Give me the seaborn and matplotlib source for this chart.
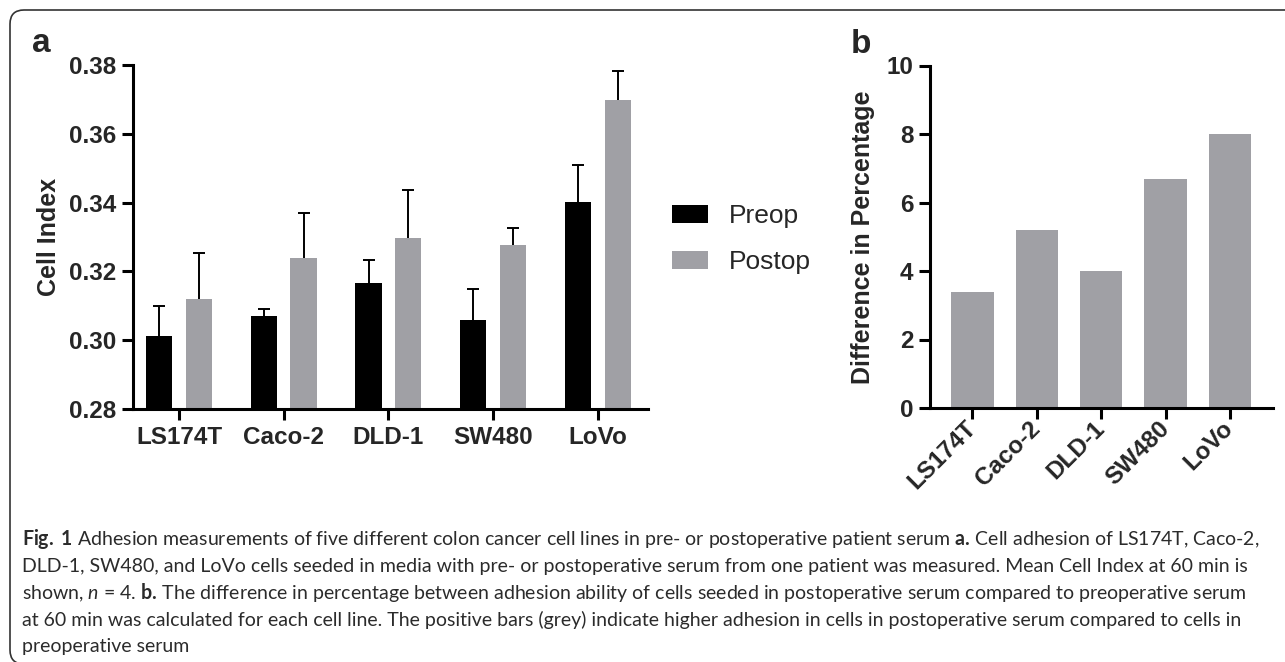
import numpy as np
import pandas as pd
import seaborn as sns
import matplotlib.pyplot as plt
from matplotlib.patches import FancyBboxPatch
from matplotlib.transforms import IdentityTransform

# values
cell_lines = ['LS174T', 'Caco-2', 'DLD-1', 'SW480', 'LoVo']
serum_groups = ['Preop', 'Postop']
preop_mean = [0.3013, 0.3070, 0.3167, 0.3058, 0.3402]
preop_sd = [0.0087, 0.0020, 0.0066, 0.0092, 0.0106]
postop_mean = [0.3120, 0.3238, 0.3298, 0.3277, 0.3699]
postop_sd = [0.0133, 0.0131, 0.0138, 0.0050, 0.0084]
diff_pct = [3.4, 5.2, 4.0, 6.7, 8.0]

caption_lines = [
    r"$\mathbf{Fig.}$ $\mathbf{1}$ Adhesion measurements of five different colon cancer cell lines in pre- or postoperative patient serum $\mathbf{a.}\,$Cell adhesion of LS174T, Caco-2,",
    "DLD-1, SW480, and LoVo cells seeded in media with pre- or postoperative serum from one patient was measured. Mean Cell Index at 60 min is",
    r"shown, $\mathit{n}$ = 4. $\mathbf{b.}\,$The difference in percentage between adhesion ability of cells seeded in postoperative serum compared to preoperative serum",
    "at 60 min was calculated for each cell line. The positive bars (grey) indicate higher adhesion in cells in postoperative serum compared to cells in",
    "preoperative serum",
]

black = '#000000'
grey = '#a0a0a5'

sns.set_style('ticks')
plt.rcParams['font.family'] = ['Liberation Sans', 'DejaVu Sans']
plt.rcParams['mathtext.fontset'] = 'custom'
plt.rcParams['mathtext.rm'] = 'Lato'
plt.rcParams['mathtext.bf'] = 'Lato:bold'
plt.rcParams['mathtext.it'] = 'Lato:italic'

W, H = 1285, 662
fig = plt.figure(figsize=(W / 100, H / 100), dpi=100)

axa = fig.add_axes([133 / W, 1 - 409 / H, 515 / W, 344 / H])
axb = fig.add_axes([930 / W, 1 - 408 / H, 343 / W, 342.5 / H])

# panel a
df_a = pd.DataFrame({
    'line': cell_lines * 2,
    'serum': [serum_groups[0]] * 5 + [serum_groups[1]] * 5,
    'ci': preop_mean + postop_mean,
})
sns.barplot(data=df_a, x='line', y='ci', hue='serum', hue_order=serum_groups,
            palette=[black, grey], saturation=1, width=0.76, gap=0.34,
            errorbar=None, linewidth=0, ax=axa)

for cont, sd in zip(axa.containers, [preop_sd, postop_sd]):
    xs = [b.get_x() + b.get_width() / 2 for b in cont]
    ys = [b.get_height() for b in cont]
    _, caps, _ = axa.errorbar(xs, ys, yerr=[np.zeros(len(sd)), sd], fmt='none',
                              ecolor='black', elinewidth=1.4, capsize=4,
                              capthick=1.4, zorder=1)
    # only the upper caps are drawn in the original
    for cap in caps:
        if np.allclose(cap.get_ydata(), ys):
            cap.set_visible(False)

axa.set_ylim(0.28, 0.38)
axa.set_yticks(np.arange(0.28, 0.381, 0.02))
axa.set_yticklabels([f'{t:.2f}' for t in np.arange(0.28, 0.381, 0.02)])
axa.set_xlim(-0.44, 4.48)
axa.set_xlabel('')
axa.set_ylabel('Cell Index', fontsize=18, fontweight='bold', labelpad=6)

handles, labels = axa.get_legend_handles_labels()
axa.legend(handles, labels, loc='upper left', bbox_to_anchor=(672 / W, 1 - 204 / H),
           bbox_transform=fig.transFigure, frameon=False, fontsize=19,
           handlelength=1.36, handleheight=0.65, handletextpad=0.8,
           labelspacing=0.85, borderpad=0, borderaxespad=0)

# panel b
df_b = pd.DataFrame({'line': cell_lines, 'diff': diff_pct})
sns.barplot(data=df_b, x='line', y='diff', color=grey, saturation=1, width=0.66,
            errorbar=None, linewidth=0, ax=axb)
axb.set_ylim(0, 10)
axb.set_yticks([0, 2, 4, 6, 8, 10])
axb.set_xlim(-0.66, 4.67)
axb.set_xlabel('')
axb.set_ylabel('Difference in Percentage', fontsize=18, fontweight='bold', labelpad=8)

for ax in (axa, axb):
    sns.despine(ax=ax)
    for s in ('left', 'bottom'):
        ax.spines[s].set_linewidth(2.2)
        ax.spines[s].set_color('black')
    ax.tick_params(width=2.2, length=8, color='black', labelsize=17.5, pad=4)
    for lab in ax.get_xticklabels() + ax.get_yticklabels():
        lab.set_fontweight('bold')

plt.setp(axb.get_xticklabels(), rotation=45, ha='right', va='center', rotation_mode='anchor')

fig.text(32 / W, 1 - 52 / H, 'a', fontsize=24, fontweight='bold', va='baseline')
fig.text(851 / W, 1 - 53 / H, 'b', fontsize=24, fontweight='bold', va='baseline')

# caption
renderer = fig.canvas.get_renderer()
base = 14
probe = fig.text(22 / W, 0.5, caption_lines[0], fontsize=base, family='Lato')
width = probe.get_window_extent(renderer).width
probe.remove()
cap_size = base * 1243 / width
baselines = [545, 572, 599, 626, 652]
for line, yb in zip(caption_lines, baselines):
    fig.text(22 / W, 1 - yb / H, line, fontsize=cap_size, family='Lato',
             color='#2b2b2b', va='baseline')

# rounded frame
frame = FancyBboxPatch((10, -2), 1400, 652 - (-2), boxstyle='round,pad=0,rounding_size=14',
                       transform=IdentityTransform(), fill=False, edgecolor='#333333',
                       linewidth=1.2)
fig.patches.append(frame)

fig.savefig('out.png', dpi=100)
